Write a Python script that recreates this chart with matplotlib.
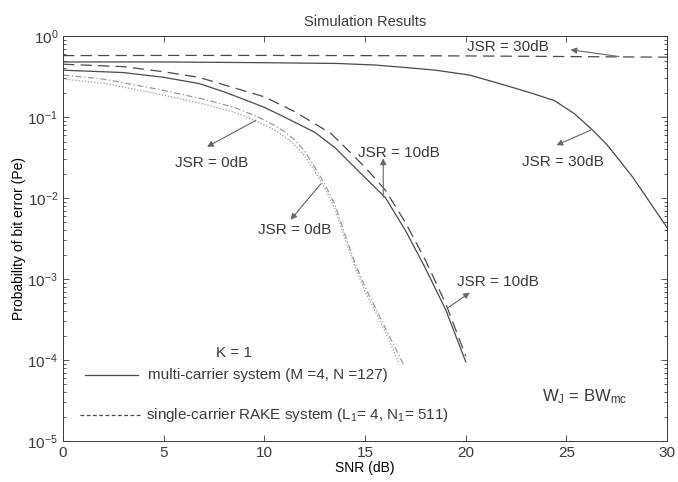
import matplotlib
matplotlib.use("Agg")
import matplotlib.pyplot as plt
import matplotlib.ticker as mticker

INK = "#3a3a3a"
LINE = "#4a4a4a"
LIGHT = "#9a9a9a"

plt.rcParams.update({
    "font.family": ["Liberation Sans", "DejaVu Sans"],
    "font.size": 11,
    "mathtext.fontset": "custom",
    "mathtext.rm": "Liberation Sans",
    "mathtext.it": "Liberation Sans:italic",
    "text.color": INK,
    "axes.edgecolor": INK,
    "xtick.color": INK,
    "ytick.color": INK,
})

# SNR (dB) vs bit error probability
mc30_snr = [0, 5, 10, 13.6, 15.5, 17, 18.5, 20.2, 21.9, 23.2, 24.4, 25.4,
            26.3, 27.0, 27.6, 28.3, 29.0, 30]
mc30_pe = [0.48, 0.48, 0.47, 0.46, 0.44, 0.41, 0.38, 0.33, 0.25, 0.20, 0.16,
           0.11, 0.069, 0.046, 0.030, 0.018, 0.010, 0.0043]

sc30_snr = [0, 5, 10, 15, 20, 25, 30]
sc30_pe = [0.575, 0.578, 0.578, 0.575, 0.57, 0.56, 0.55]

mc10_snr = [0, 3, 5, 6.75, 8, 9, 10, 11, 12.5, 13.5, 14.6, 16, 17, 18, 19, 20]
mc10_pe = [0.38, 0.355, 0.31, 0.26, 0.205, 0.165, 0.132, 0.1, 0.065, 0.042,
           0.0224, 0.0102, 0.0040, 0.00135, 0.00042, 0.000095]

sc10_snr = [0, 3, 5, 6.75, 8, 10, 11.5, 13.3, 14.2, 15, 16, 17, 18, 19, 20]
sc10_pe = [0.45, 0.42, 0.363, 0.31, 0.25, 0.178, 0.117, 0.063, 0.038, 0.024,
           0.0126, 0.005, 0.0017, 0.0005, 0.000112]

sc0_snr = [0, 2, 4.8, 7, 8.5, 9.7, 10.5, 11, 11.5, 12, 12.5, 13, 13.5, 14,
           14.5, 15, 15.5, 16, 16.5, 16.9]
sc0_pe = [0.331, 0.295, 0.219, 0.166, 0.132, 0.1, 0.079, 0.066, 0.0525,
          0.038, 0.024, 0.0148, 0.00832, 0.00355, 0.00158, 0.000794,
          0.000447, 0.000251, 0.000141, 0.000089]

mc0_snr = [0, 2, 4.8, 7, 8.5, 9.7, 10.5, 11, 11.5, 12, 12.5, 13, 13.5, 14,
           14.5, 15, 15.5, 16, 16.7]
mc0_pe = [0.295, 0.263, 0.191, 0.145, 0.115, 0.087, 0.069, 0.0575, 0.0457,
          0.0331, 0.0214, 0.0132, 0.0074, 0.00316, 0.00141, 0.000708,
          0.000398, 0.000224, 0.0000891]

x_ticks = [0, 5, 10, 15, 20, 25, 30]
y_ticks = [1, 1e-1, 1e-2, 1e-3, 1e-4, 1e-5]
y_labels = ["10$^{0}$", "10$^{-1}$", "10$^{-2}$", "10$^{-3}$", "10$^{-4}$", "10$^{-5}$"]

# (label, text position, arrow tail on curve, arrow head)
notes = [
    ("JSR = 30dB", (22.1, 0.73), (27.6, 0.56), (25.2, 0.68)),
    ("JSR = 30dB", (24.8, 0.028), (26.2, 0.069), (24.5, 0.045)),
    ("JSR = 10dB", (16.7, 0.036), (15.9, 0.0102), (15.9, 0.031)),
    ("JSR = 10dB", (21.6, 0.00091), (19.1, 0.00044), (20.2, 0.00068)),
    ("JSR = 0dB", (7.4, 0.027), (9.57, 0.091), (7.15, 0.043)),
    ("JSR = 0dB", (11.5, 0.004), (12.8, 0.015), (11.3, 0.0054)),
]

dash = (0, (9, 5))

fig = plt.figure(figsize=(6.78, 4.82), dpi=100)
ax = fig.add_axes([0.093, 0.085, 0.891, 0.84])

ax.semilogy(mc30_snr, mc30_pe, color=LINE, lw=0.9)
ax.semilogy(sc30_snr, sc30_pe, color=LINE, lw=0.9, ls=dash)
ax.semilogy(mc10_snr, mc10_pe, color=LINE, lw=0.9)
ax.semilogy(sc10_snr, sc10_pe, color=LINE, lw=0.9, ls=dash)
ax.semilogy(mc0_snr, mc0_pe, color=LIGHT, lw=0.9, ls=(0, (1, 1.5)))
ax.semilogy(sc0_snr, sc0_pe, color=LIGHT, lw=0.9, ls=(0, (5, 2, 1, 2)))

for label, txt, tail, head in notes:
    ax.annotate("", xy=head, xytext=tail,
                arrowprops=dict(arrowstyle="-|>", color="#666666", lw=0.8,
                                mutation_scale=9, shrinkA=0, shrinkB=0))
    ax.text(txt[0], txt[1], label, ha="center", va="center", fontsize=11)

# hand-drawn legend, as in the original
ax.text(8.5, 1.23e-4, "K = 1", ha="center", va="center", fontsize=11)
ax.plot([1.1, 3.7], [6.5e-5, 6.5e-5], color=LINE, lw=0.9)
ax.text(4.2, 6.5e-5, "multi-carrier system (M =4, N =127)", va="center",
        fontsize=11)
ax.plot([0.85, 3.8], [2.1e-5, 2.1e-5], color=LINE, lw=0.9, ls=(0, (3, 2)))
ax.text(4.1, 2.1e-5, "single-carrier RAKE system (L$_1$= 4, N$_1$= 511)",
        va="center", fontsize=11)
ax.text(25.9, 3.5e-5, r"W$_\mathrm{J}$ = BW$_\mathrm{mc}$", ha="center",
        va="center", fontsize=12)

ax.set_xlim(0, 30)
ax.set_ylim(1e-5, 1)
ax.set_xticks(x_ticks)
ax.set_yticks(y_ticks)
ax.set_yticklabels(y_labels)
ax.yaxis.set_minor_locator(mticker.LogLocator(base=10, subs=range(2, 10)))
ax.yaxis.set_minor_formatter(mticker.NullFormatter())
ax.tick_params(which="both", direction="in", top=True, right=True,
               labelsize=11, width=0.6)
ax.tick_params(which="major", length=4)
ax.tick_params(which="minor", length=2)
for s in ax.spines.values():
    s.set_linewidth(0.7)

ax.set_title("Simulation Results", fontsize=10.5, pad=7)
ax.set_xlabel("SNR (dB)", fontsize=10, labelpad=1)
ax.set_ylabel("Probability of bit error (Pe)", fontsize=10, labelpad=1)

fig.savefig("out.png", dpi=100)
